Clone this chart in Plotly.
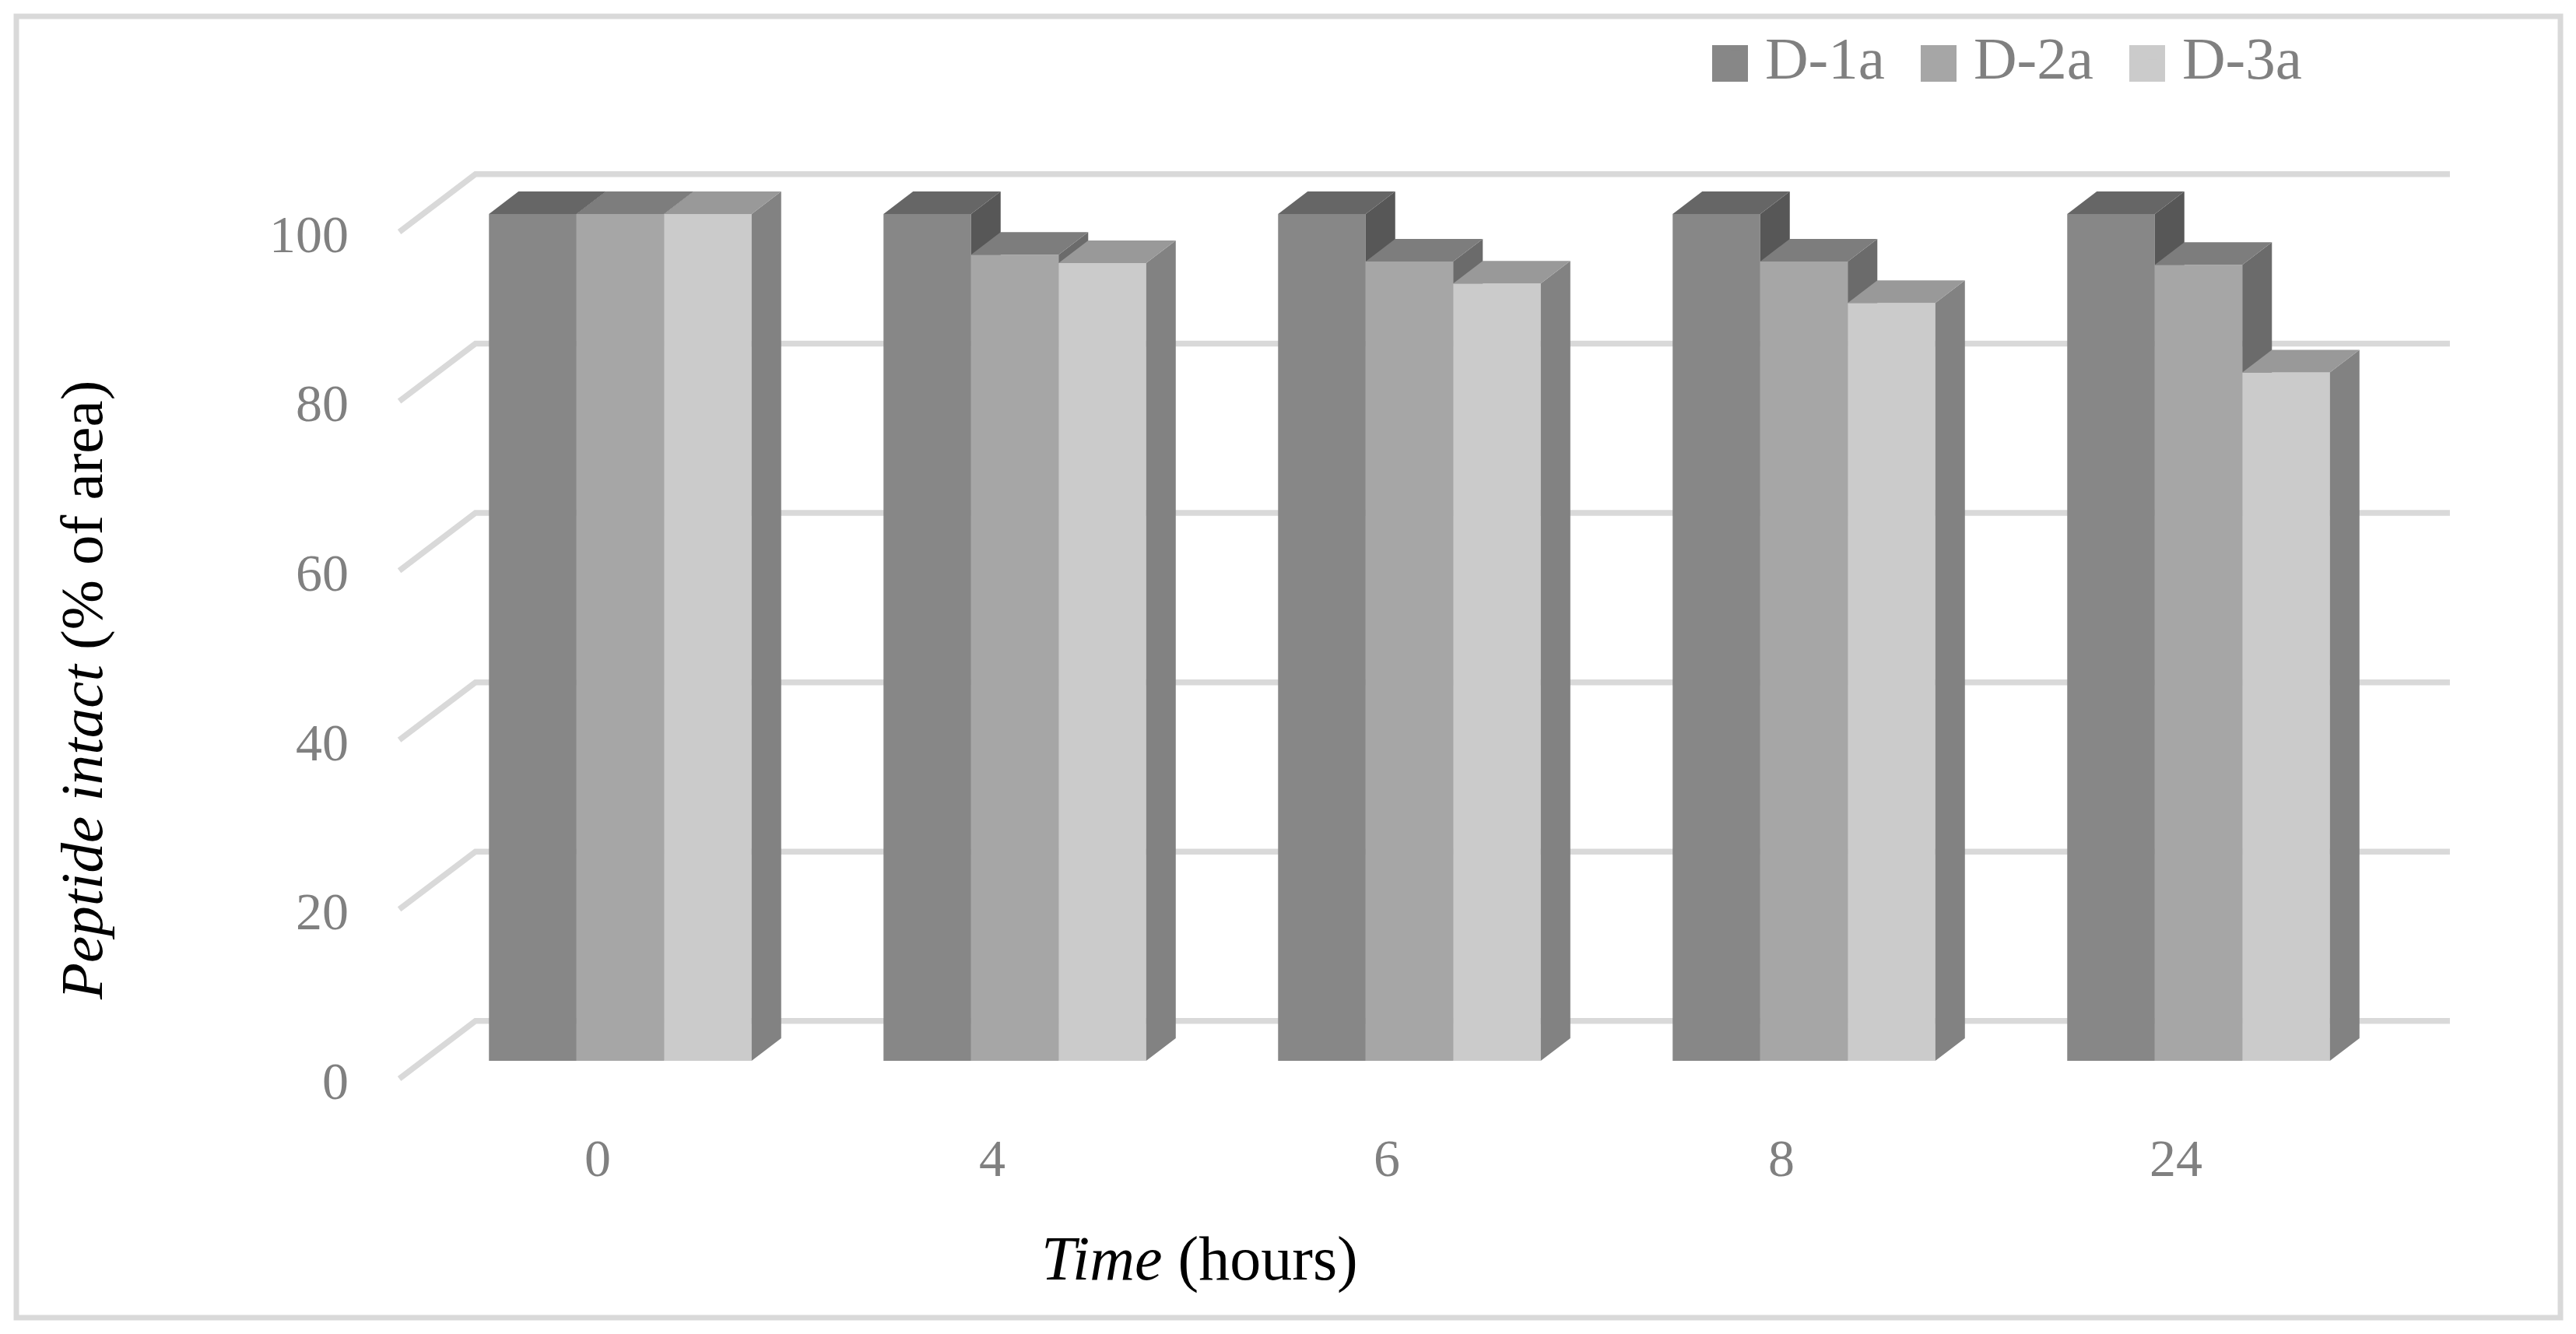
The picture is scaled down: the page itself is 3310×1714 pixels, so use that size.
import plotly.graph_objects as go

categories = ["0", "4", "6", "8", "24"]
series_names = ["D-1a", "D-2a", "D-3a"]
d1a = [100, 100, 100, 100, 100]
d2a = [100, 95.2, 94.4, 94.4, 94.0]
d3a = [100, 94.2, 91.8, 89.5, 81.3]
y_ticks = [0, 20, 40, 60, 80, 100]

front_colors = ["#878787", "#a6a6a6", "#cbcbcb"]
top_colors = ["#666666", "#7d7d7d", "#999999"]
side_colors = ["#575757", "#6b6b6b", "#828282"]

M = 8                                # page body margin
W, H = 3310 - 2 * M, 1714 - 2 * M
L, R, T, B = 460, 3200, 10, 1420     # plot area in screen pixels
PX_X, PX_Y = 507.0, 10.88            # pixels per category / per percent
X0, Y0 = 797.0, 1363.0               # screen pixel of category 0 centre / value 0

def fx(px):
    return (px - L) / (R - L)

def fy(py):
    return (B - py) / (B - T)

bar_w = 0.2219
dx, dy = 0.075, 2.67                 # bar depth
wall_dy = 4.7                        # back wall rise
wall_left, wall_right, floor_left = -0.367, 4.637, -0.560
floor_dy = -2.11

fig = go.Figure()

# back wall and left-wall grid lines, from the tick values
gx, gy = [], []
for v in y_ticks:
    gx += [floor_left, wall_left, wall_right, None]
    gy += [v + floor_dy, v + wall_dy, v + wall_dy, None]
fig.add_trace(go.Scatter(x=gx, y=gy, mode="lines", showlegend=False, hoverinfo="skip",
                         line=dict(color="#d9d9d9", width=7.5), xaxis="x", yaxis="y"))

for k, (name, vals) in enumerate(zip(series_names, [d1a, d2a, d3a])):
    ax = str(k + 2)
    xs = [i + (k - 1) * bar_w for i in range(len(categories))]
    fig.add_trace(go.Bar(x=xs, y=vals, width=bar_w, name=name,
                         marker=dict(color=front_colors[k], line=dict(width=0)),
                         xaxis="x" + ax, yaxis="y" + ax))
    tx, ty, sx, sy = [], [], [], []
    for x, v in zip(xs, vals):
        l, r = x - bar_w / 2, x + bar_w / 2
        tx += [l, r, r + dx, l + dx, l, None]
        ty += [v, v, v + dy, v + dy, v, None]
        sx += [r, r + dx, r + dx, r, r, None]
        sy += [0, dy, v + dy, v, 0, None]
    for px, py, col in ((sx, sy, side_colors[k]), (tx, ty, top_colors[k])):
        fig.add_trace(go.Scatter(x=px, y=py, mode="lines", fill="toself", fillcolor=col,
                                 line=dict(width=0, color=col), showlegend=False, hoverinfo="skip",
                                 xaxis="x" + ax, yaxis="y" + ax))

x_range = [(L - X0) / PX_X, (R - X0) / PX_X]
y_range = [(Y0 - B) / PX_Y, (Y0 - T) / PX_Y]
hidden = dict(visible=False, showgrid=False, zeroline=False)

layout = dict(
    width=W, height=H, autosize=False,
    margin=dict(l=L - M, r=W - (R - M), t=T - M, b=H - (B - M), pad=0),
    paper_bgcolor="white", plot_bgcolor="rgba(0,0,0,0)",
    font=dict(family="Liberation Serif", color="#808080", size=68),
    barmode="overlay",
    xaxis=dict(range=x_range, tickmode="array", tickvals=list(range(len(categories))),
               ticktext=categories, showgrid=False, zeroline=False, showline=False, ticks="",
               ticklabelshift=-29, ticklabelstandoff=22, automargin=False,
               tickfont=dict(size=68, color="#808080")),
    yaxis=dict(range=y_range, tickmode="array", tickvals=y_ticks, showgrid=False, zeroline=False,
               showline=False, ticks="", ticklabelshift=25, ticklabelstandoff=11, automargin=False,
               tickfont=dict(size=68, color="#808080")),
    legend=dict(orientation="h", x=fx(2192), xanchor="left", y=fy(14), yanchor="top",
                itemwidth=66, entrywidth=187, entrywidthmode="pixels", traceorder="normal",
                font=dict(size=77, color="#808080"), bgcolor="rgba(0,0,0,0)", itemclick=False),
    annotations=[
        dict(text="<i>Time</i> (hours)", xref="paper", yref="paper", x=fx(1541), y=fy(1617),
             showarrow=False, xanchor="center", yanchor="middle",
             font=dict(size=80, color="#000000")),
        dict(text="<i>Peptide intact</i> (% of area)", xref="paper", yref="paper", x=fx(105), y=fy(887),
             showarrow=False, xanchor="center", yanchor="middle", textangle=-90,
             font=dict(size=77, color="#000000")),
    ],
    shapes=[
        dict(type="rect", xref="paper", yref="paper", x0=fx(21), x1=fx(3290), y0=fy(1693), y1=fy(21),
             line=dict(color="#d9d9d9", width=7), layer="below"),
    ] + [
        dict(type="rect", xref="paper", yref="paper", x0=fx(2200 + 268 * k), x1=fx(2246 + 268 * k),
             y0=fy(105), y1=fy(58), line=dict(width=0), fillcolor=front_colors[k], layer="above")
        for k in range(3)
    ],
)
for k in range(2, 5):
    layout["xaxis%d" % k] = dict(overlaying="x", matches="x", anchor="y%d" % k, **hidden)
    layout["yaxis%d" % k] = dict(overlaying="y", matches="y", anchor="x%d" % k, **hidden)
fig.update_layout(**layout)
fig.write_html("out.html")
